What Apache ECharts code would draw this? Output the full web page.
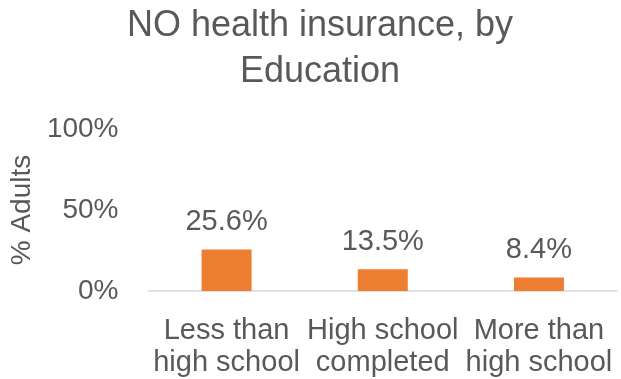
<!DOCTYPE html>
<html>
<head>
<meta charset="utf-8">
<script src="https://cdn.jsdelivr.net/npm/echarts@6/dist/echarts.min.js"></script>
<style>
  html, body { margin: 0; padding: 0; background: #fff; }
  #chart { width: 621px; height: 379px; }
</style>
</head>
<body>
<div id="chart"></div>
<script>
var categories = ["Less than\nhigh school", "High school\ncompleted", "More than\nhigh school"];
var values = [25.6, 13.5, 8.4];
var yTicks = { min: 0, max: 100, interval: 50 };

var textColor = "#595959";
var font = "'Liberation Sans', Arial, sans-serif";

var chart = echarts.init(document.getElementById("chart"));
var option = {
  animation: false,
  backgroundColor: "#ffffff",
  title: {
    text: "NO health insurance, by\nEducation",
    left: 320,
    top: 3,
    padding: 0,
    textAlign: "center",
    textStyle: {
      color: textColor,
      fontFamily: font,
      fontWeight: "normal",
      fontSize: 36,
      lineHeight: 46
    }
  },
  grid: {
    left: 147,
    right: 4,
    top: 129,
    bottom: 87
  },
  xAxis: {
    type: "category",
    data: categories,
    axisTick: { show: false },
    axisLine: { lineStyle: { color: "#d9d9d9", width: 1.5 } },
    axisLabel: {
      color: textColor,
      fontFamily: font,
      fontSize: 29,
      lineHeight: 32,
      margin: 24,
      interval: 0
    }
  },
  yAxis: {
    type: "value",
    min: yTicks.min,
    max: yTicks.max,
    interval: yTicks.interval,
    name: "% Adults",
    nameLocation: "middle",
    nameGap: 112,
    nameRotate: 90,
    nameTextStyle: {
      color: textColor,
      fontFamily: font,
      fontSize: 28
    },
    axisLine: { show: false },
    axisTick: { show: false },
    splitLine: { show: false },
    axisLabel: {
      color: textColor,
      fontFamily: font,
      fontSize: 28,
      margin: 30,
      formatter: "{value}%"
    }
  },
  series: [{
    type: "bar",
    data: values,
    barWidth: 50,
    itemStyle: { color: "#ed7d31" },
    label: {
      show: true,
      position: "top",
      distance: 13,
      color: textColor,
      fontFamily: font,
      fontSize: 29,
      formatter: function (p) { return p.value.toFixed(1) + "%"; }
    }
  }]
};
chart.setOption(option);
</script>
</body>
</html>
